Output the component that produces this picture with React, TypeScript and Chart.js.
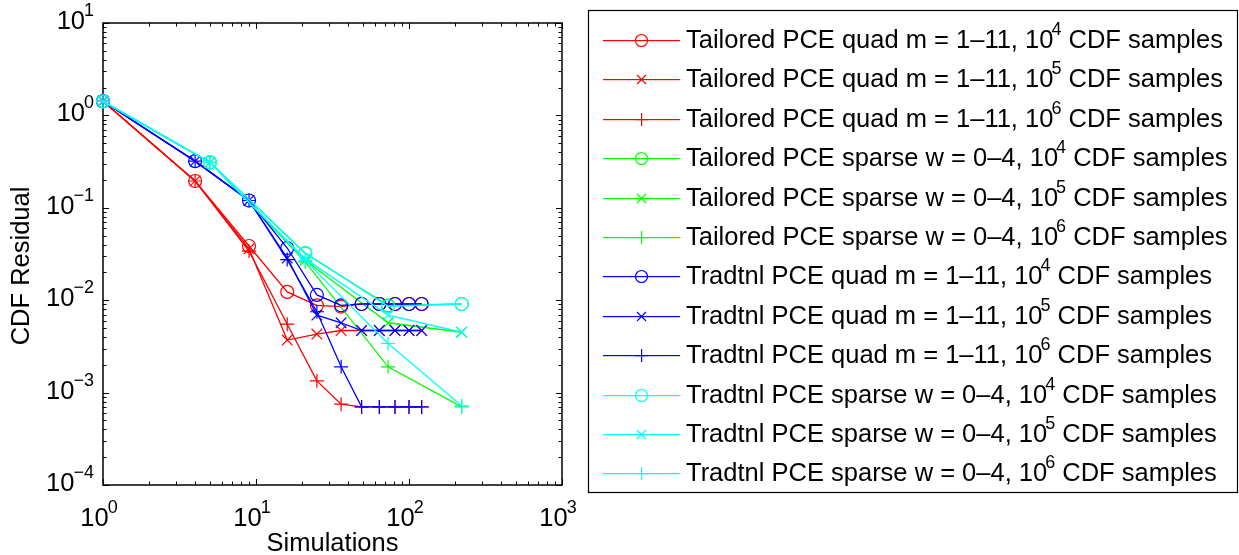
import { useEffect, useRef } from "react";
import { Chart, registerables } from "chart.js";

Chart.register(...registerables);

// Simulation counts for the two sampling schemes
const quadSims = [1, 4, 9, 16, 25, 36, 49, 64, 81, 100, 121];
const sparseSims = [1, 5, 21, 73, 221];

// CDF residuals — tailored PCE, quadrature
const tailoredQuad1e4 = [1.42, 0.195, 0.0386, 0.0123, 0.0088, 0.0085, 0.0091, 0.0091, 0.0091, 0.0091, 0.0091];
const tailoredQuad1e5 = [1.42, 0.195, 0.036, 0.0037, 0.0043, 0.0047, 0.0047, 0.0047, 0.0047, 0.0047, 0.0047];
const tailoredQuad1e6 = [1.42, 0.195, 0.034, 0.0055, 0.00134, 0.00075, 0.0007, 0.0007, 0.0007, 0.0007, 0.0007];

// CDF residuals — tailored PCE, sparse grid
const tailoredSparse1e4 = [1.42, 0.31, 0.032, 0.0088, 0.0091];
const tailoredSparse1e5 = [1.42, 0.31, 0.027, 0.0057, 0.0045];
const tailoredSparse1e6 = [1.42, 0.31, 0.026, 0.0019, 0.0007];

// CDF residuals — traditional PCE, quadrature
const tradQuad1e4 = [1.42, 0.32, 0.12, 0.0367, 0.0114, 0.0088, 0.0091, 0.0091, 0.0091, 0.0091, 0.0091];
const tradQuad1e5 = [1.42, 0.32, 0.12, 0.0286, 0.0069, 0.0057, 0.0047, 0.0047, 0.0047, 0.0047, 0.0047];
const tradQuad1e6 = [1.42, 0.32, 0.12, 0.0275, 0.0075, 0.0019, 0.0007, 0.0007, 0.0007, 0.0007, 0.0007];

// CDF residuals — traditional PCE, sparse grid
const tradSparse1e4 = [1.42, 0.31, 0.0325, 0.0086, 0.0091];
const tradSparse1e5 = [1.42, 0.31, 0.028, 0.0069, 0.0045];
const tradSparse1e6 = [1.42, 0.31, 0.027, 0.0034, 0.00072];

// Axis tick exponents
const xExponents = [0, 1, 2, 3];
const yExponents = [1, 0, -1, -2, -3, -4];

const RED = "#ff0000";
const GREEN = "#00ff00";
const BLUE = "#0000ff";
const CYAN = "#00ffff";

const FONT = '"Liberation Sans", Arial, Helvetica, sans-serif';
const FS = 25.5;
const FS_SUP = 18;

type Marker = "circle" | "crossRot" | "cross";

interface Series {
  prefix: string;
  exp: string;
  color: string;
  marker: Marker;
  xs: number[];
  ys: number[];
}

const quadText = "quad m = 1\u201311, ";
const sparseText = "sparse w = 0\u20134, ";

const series: Series[] = [
  { prefix: "Tailored PCE " + quadText, exp: "4", color: RED, marker: "circle", xs: quadSims, ys: tailoredQuad1e4 },
  { prefix: "Tailored PCE " + quadText, exp: "5", color: RED, marker: "crossRot", xs: quadSims, ys: tailoredQuad1e5 },
  { prefix: "Tailored PCE " + quadText, exp: "6", color: RED, marker: "cross", xs: quadSims, ys: tailoredQuad1e6 },
  { prefix: "Tailored PCE " + sparseText, exp: "4", color: GREEN, marker: "circle", xs: sparseSims, ys: tailoredSparse1e4 },
  { prefix: "Tailored PCE " + sparseText, exp: "5", color: GREEN, marker: "crossRot", xs: sparseSims, ys: tailoredSparse1e5 },
  { prefix: "Tailored PCE " + sparseText, exp: "6", color: GREEN, marker: "cross", xs: sparseSims, ys: tailoredSparse1e6 },
  { prefix: "Tradtnl PCE " + quadText, exp: "4", color: BLUE, marker: "circle", xs: quadSims, ys: tradQuad1e4 },
  { prefix: "Tradtnl PCE " + quadText, exp: "5", color: BLUE, marker: "crossRot", xs: quadSims, ys: tradQuad1e5 },
  { prefix: "Tradtnl PCE " + quadText, exp: "6", color: BLUE, marker: "cross", xs: quadSims, ys: tradQuad1e6 },
  { prefix: "Tradtnl PCE " + sparseText, exp: "4", color: CYAN, marker: "circle", xs: sparseSims, ys: tradSparse1e4 },
  { prefix: "Tradtnl PCE " + sparseText, exp: "5", color: CYAN, marker: "crossRot", xs: sparseSims, ys: tradSparse1e5 },
  { prefix: "Tradtnl PCE " + sparseText, exp: "6", color: CYAN, marker: "cross", xs: sparseSims, ys: tradSparse1e6 },
];

const markerRadius: Record<Marker, number> = { circle: 6.5, crossRot: 7.5, cross: 7 };

const W = 1239;
const H = 555;

// "10" with a raised exponent
function drawPower(
  ctx: CanvasRenderingContext2D,
  exp: string,
  x: number,
  y: number,
  align: "center" | "right"
) {
  ctx.font = `${FS}px ${FONT}`;
  const wBase = ctx.measureText("10").width;
  ctx.font = `${FS_SUP}px ${FONT}`;
  const wExp = ctx.measureText(exp).width;
  const overlap = 1;
  const total = wBase + wExp - overlap;
  const x0 = align === "center" ? x - total / 2 : x - total;
  ctx.textAlign = "left";
  ctx.textBaseline = "middle";
  ctx.font = `${FS}px ${FONT}`;
  ctx.fillText("10", x0, y);
  ctx.font = `${FS_SUP}px ${FONT}`;
  ctx.fillText(exp, x0 + wBase - overlap, y - 11);
}

// Legend marker glyphs, drawn as filled 1px strokes / arcs
function drawLegendMarker(ctx: CanvasRenderingContext2D, m: Marker, x: number, y: number) {
  if (m === "circle") {
    ctx.lineWidth = 1.2;
    ctx.beginPath();
    ctx.arc(x + 0.5, y + 0.5, 6, 0, Math.PI * 2);
    ctx.stroke();
  } else if (m === "cross") {
    ctx.fillRect(x - 6, y, 13, 1.2);
    ctx.fillRect(x, y - 6, 1.2, 13);
  } else {
    ctx.lineWidth = 1.2;
    ctx.beginPath();
    ctx.moveTo(x - 4, y - 4);
    ctx.lineTo(x + 5, y + 5);
    ctx.moveTo(x - 4, y + 5);
    ctx.lineTo(x + 5, y - 4);
    ctx.stroke();
  }
}

// Box, inward tick marks, tick labels and axis titles
const axesPlugin = {
  id: "matlabAxes",
  beforeDatasetsDraw(chart: any) {
    const { ctx, chartArea: a, scales } = chart;
    const xs = scales.x;
    const ys = scales.y;
    ctx.save();
    ctx.strokeStyle = "#000";
    ctx.fillStyle = "#000";
    ctx.lineWidth = 1;

    const major = 6;
    const minor = 3.5;

    const xTick = (v: number, len: number) => {
      const px = Math.round(xs.getPixelForValue(v)) + 0.5;
      ctx.beginPath();
      ctx.moveTo(px, a.bottom);
      ctx.lineTo(px, a.bottom - len);
      ctx.moveTo(px, a.top);
      ctx.lineTo(px, a.top + len);
      ctx.stroke();
    };
    const yTick = (v: number, len: number) => {
      const py = Math.round(ys.getPixelForValue(v)) + 0.5;
      ctx.beginPath();
      ctx.moveTo(a.left, py);
      ctx.lineTo(a.left + len, py);
      ctx.moveTo(a.right, py);
      ctx.lineTo(a.right - len, py);
      ctx.stroke();
    };

    for (const e of xExponents) {
      xTick(Math.pow(10, e), major);
      if (e < xExponents[xExponents.length - 1]) {
        for (let k = 2; k <= 9; k++) xTick(k * Math.pow(10, e), minor);
      }
    }
    for (const e of yExponents) {
      yTick(Math.pow(10, e), major);
      if (e < yExponents[0]) {
        for (let k = 2; k <= 9; k++) yTick(k * Math.pow(10, e), minor);
      }
    }

    ctx.lineWidth = 1.5;
    ctx.strokeRect(a.left, a.top, a.right - a.left, a.bottom - a.top);

    const expText = (e: number) => (e < 0 ? "\u2212" + Math.abs(e) : String(e));
    for (const e of xExponents) {
      drawPower(ctx, expText(e), xs.getPixelForValue(Math.pow(10, e)) - 4, a.bottom + 34, "center");
    }
    for (const e of yExponents) {
      drawPower(ctx, expText(e), a.left - 9, ys.getPixelForValue(Math.pow(10, e)) - 1, "right");
    }

    ctx.font = `${FS}px ${FONT}`;
    ctx.textAlign = "center";
    ctx.textBaseline = "middle";
    ctx.fillText("Simulations", (a.left + a.right) / 2, a.bottom + 59);

    ctx.save();
    ctx.translate(22, (a.top + a.bottom) / 2 + 12);
    ctx.rotate(-Math.PI / 2);
    ctx.fillText("CDF Residual", 0, 0);
    ctx.restore();

    ctx.restore();
  },
};

// Boxed legend with line + marker samples
const legendPlugin = {
  id: "matlabLegend",
  afterDraw(chart: any) {
    const { ctx } = chart;
    const bx = 588;
    const by = 10;
    const bw = 649;
    const bh = 482;
    ctx.save();
    ctx.fillStyle = "#fff";
    ctx.fillRect(bx, by, bw, bh);
    ctx.strokeStyle = "#000";
    ctx.lineWidth = 1.2;
    ctx.strokeRect(bx + 0.5, by + 0.5, bw, bh);

    const rowH = 39.4;
    series.forEach((s, i) => {
      const y = by + 30 + i * rowH;
      const ry = Math.round(y);
      ctx.fillStyle = s.color;
      ctx.strokeStyle = s.color;
      ctx.fillRect(603, ry, 77, 1.2);
      drawLegendMarker(ctx, s.marker, 641, ry);

      ctx.fillStyle = "#000";
      ctx.textAlign = "left";
      ctx.textBaseline = "middle";
      ctx.font = `${FS}px ${FONT}`;
      const head = s.prefix + "10";
      const x0 = 686;
      ctx.fillText(head, x0, y + 1);
      const wHead = ctx.measureText(head).width;
      ctx.font = `${FS_SUP}px ${FONT}`;
      const supX = x0 + wHead - 2;
      ctx.fillText(s.exp, supX, y - 10);
      const wSup = ctx.measureText(s.exp).width;
      ctx.font = `${FS}px ${FONT}`;
      ctx.fillText(" CDF samples", supX + wSup, y + 1);
    });
    ctx.restore();
  },
};

export default function App() {
  const ref = useRef<HTMLCanvasElement | null>(null);

  useEffect(() => {
    if (!ref.current) return;
    const n = series.length;
    const datasets = series.map((s, i) => ({
      label: s.prefix + "10^" + s.exp + " CDF samples",
      data: s.xs.map((x, j) => ({ x, y: s.ys[j] })),
      borderColor: s.color,
      backgroundColor: "rgba(0,0,0,0)",
      borderWidth: 1.3,
      pointStyle: s.marker,
      pointRadius: markerRadius[s.marker],
      pointBorderColor: s.color,
      pointBackgroundColor: "rgba(0,0,0,0)",
      pointBorderWidth: 1.2,
      tension: 0,
      fill: false,
      clip: false as const,
      order: n - i,
    }));

    const chart = new Chart(ref.current, {
      type: "line",
      data: { datasets },
      plugins: [axesPlugin, legendPlugin],
      options: {
        responsive: false,
        animation: false,
        devicePixelRatio: 1,
        layout: { padding: { left: 103, top: 23, right: W - 562, bottom: H - 485 } },
        plugins: { legend: { display: false }, tooltip: { enabled: false } },
        events: [],
        scales: {
          x: {
            type: "logarithmic",
            min: 1,
            max: 1000,
            grid: { display: false },
            border: { display: false },
            ticks: { display: false },
            afterFit: (s: any) => {
              s.height = 0;
            },
          },
          y: {
            type: "logarithmic",
            min: 1e-4,
            max: 10,
            grid: { display: false },
            border: { display: false },
            ticks: { display: false },
            afterFit: (s: any) => {
              s.width = 0;
            },
          },
        },
      },
    });
    return () => chart.destroy();
  }, []);

  return (
    <div style={{ position: "fixed", left: 0, top: 0, width: W, height: H, background: "#fff" }}>
      <canvas ref={ref} width={W} height={H} style={{ display: "block", width: W, height: H }} />
    </div>
  );
}
